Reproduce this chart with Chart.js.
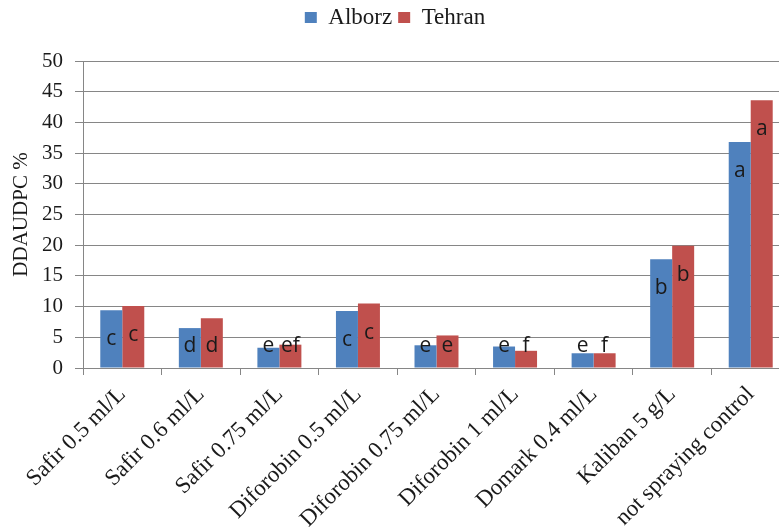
<!DOCTYPE html>
<html>
<head>
<meta charset="utf-8">
<script src="https://cdn.jsdelivr.net/npm/chart.js@4.4.0/dist/chart.umd.min.js"></script>
<style>
  html, body { margin: 0; padding: 0; background: #fff; overflow: hidden; }
  #wrap { width: 790px; height: 528px; position: relative; }
</style>
</head>
<body>
<div id="wrap"><canvas id="barChart"></canvas></div>
<script>
// Datos
const categories = [
    'Safir 0.5 ml/L', 'Safir 0.6 ml/L', 'Safir 0.75 ml/L', 'Diforobin 0.5 ml/L',
    'Diforobin 0.75 ml/L', 'Diforobin 1 ml/L', 'Domark 0.4 ml/L', 'Kaliban 5 g/L',
    'not spraying control'
];
const alborzValues = [9.4, 6.5, 3.3, 9.3, 3.7, 3.5, 2.4, 17.7, 36.8];
const tehranValues = [10.1, 8.1, 3.8, 10.5, 5.3, 2.8, 2.4, 19.9, 43.6];
const alborzLetters = ['c', 'd', 'e', 'c', 'e', 'e', 'e', 'b', 'a'];
const tehranLetters = ['c', 'd', 'ef', 'c', 'e', 'f', 'f', 'b', 'a'];
const yTicks = [0, 5, 10, 15, 20, 25, 30, 35, 40, 45, 50];

const serif = '"Liberation Serif", "Times New Roman", serif';
const gridColor = '#868686';

// Espacio extra bajo la leyenda
const legendMargin = {
    id: 'legendMargin',
    beforeInit(chart) {
        const fit = chart.legend.fit;
        chart.legend.fit = function() {
            fit.bind(chart.legend)();
            this.height += 22;
        };
    }
};

// Letras de significancia dentro de las barras
const letterPlugin = {
    id: 'letters',
    afterDatasetsDraw(chart) {
        const ctx = chart.ctx;
        const zeroY = chart.scales.y.getPixelForValue(0);
        const letters = [alborzLetters, tehranLetters];
        ctx.save();
        ctx.font = '21px "Open Sans", sans-serif';
        ctx.fillStyle = '#1a1a1a';
        ctx.textAlign = 'center';
        ctx.textBaseline = 'alphabetic';
        chart.data.datasets.forEach((ds, i) => {
            chart.getDatasetMeta(i).data.forEach((bar, j) => {
                const y = Math.min(bar.y + 35, zeroY - 16);
                ctx.fillText(letters[i][j], bar.x, y);
            });
        });
        ctx.restore();
    }
};

new Chart(document.getElementById('barChart'), {
    type: 'bar',
    data: {
        labels: categories,
        datasets: [
            { label: 'Alborz', data: alborzValues, backgroundColor: '#4F81BD' },
            { label: 'Tehran', data: tehranValues, backgroundColor: '#C0504D' }
        ]
    },
    options: {
        responsive: true,
        maintainAspectRatio: false,
        animation: false,
        layout: { padding: { top: 0, right: 0, left: 0, bottom: 0 } },
        datasets: {
            bar: { categoryPercentage: 0.56, barPercentage: 1.0, borderWidth: 0 }
        },
        plugins: {
            legend: {
                position: 'top',
                labels: {
                    boxWidth: 12,
                    boxHeight: 11,
                    padding: 6,
                    color: '#1a1a1a',
                    font: { family: serif, size: 23 }
                }
            },
            tooltip: { enabled: false }
        },
        scales: {
            x: {
                afterFit: s => { s.height = 160; },
                grid: {
                    display: true,
                    drawOnChartArea: false,
                    offset: true,
                    color: gridColor,
                    tickLength: 7
                },
                border: { display: true, color: gridColor },
                ticks: {
                    autoSkip: false,
                    minRotation: 45,
                    maxRotation: 45,
                    padding: 6,
                    color: '#1a1a1a',
                    font: { family: serif, size: 23 }
                }
            },
            y: {
                min: 0,
                max: 50,
                afterFit: s => { s.width = 83; },
                afterBuildTicks: s => { s.ticks = yTicks.map(v => ({ value: v })); },
                grid: { color: gridColor, tickLength: 8 },
                border: { display: true, color: gridColor },
                ticks: {
                    padding: 12,
                    color: '#1a1a1a',
                    font: { family: serif, size: 21 }
                },
                title: {
                    display: true,
                    text: 'DDAUDPC %',
                    color: '#1a1a1a',
                    padding: { top: 9, bottom: 0 },
                    font: { family: serif, size: 21 }
                }
            }
        }
    },
    plugins: [legendMargin, letterPlugin]
});
</script>
</body>
</html>
